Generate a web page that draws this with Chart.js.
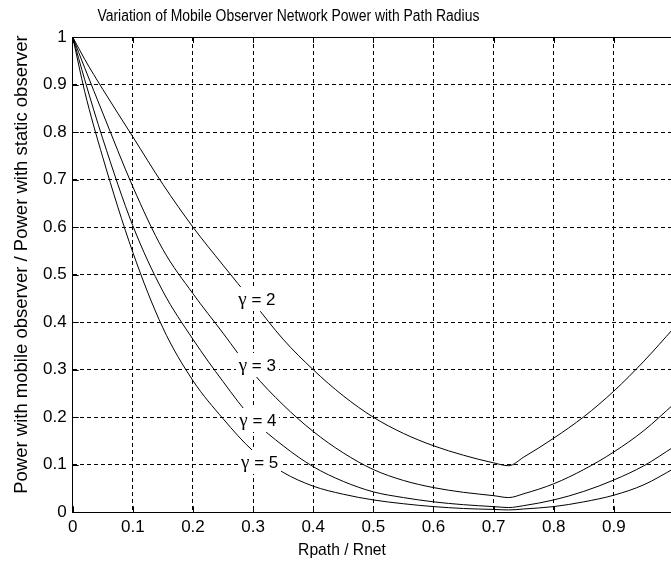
<!DOCTYPE html>
<html><head><meta charset="utf-8">
<script src="https://cdn.jsdelivr.net/npm/chart.js@4.4.0/dist/chart.umd.min.js"></script>
<style>html,body{margin:0;padding:0;overflow:hidden;background:#fff;width:671px;height:563px}canvas{display:block}</style>
</head><body><canvas id="c" width="680" height="563"></canvas>
<script>
// ---- data ----
const xValues = [0,0.02,0.05,0.1,0.15,0.2,0.25,0.3,0.35,0.4,0.45,0.5,0.55,0.6,0.65,0.7,0.725,0.75,0.8,0.85,0.9,0.95,1.0];
const gamma2 = [1,0.953,0.89,0.79,0.69,0.6,0.52,0.442,0.364,0.3,0.245,0.2,0.166,0.14,0.12,0.104,0.098,0.116,0.156,0.201,0.255,0.318,0.388];
const gamma3 = [1,0.935,0.84,0.685,0.553,0.46,0.377,0.293,0.226,0.17,0.125,0.09,0.067,0.052,0.042,0.035,0.031,0.039,0.060,0.090,0.127,0.172,0.228];
const gamma4 = [1,0.91,0.786,0.603,0.465,0.364,0.275,0.195,0.14,0.096,0.065,0.043,0.031,0.022,0.016,0.012,0.010,0.014,0.026,0.044,0.068,0.098,0.138];
const gamma5 = [1,0.885,0.747,0.547,0.388,0.277,0.197,0.129,0.084,0.055,0.038,0.026,0.018,0.012,0.008,0.006,0.005,0.007,0.012,0.022,0.036,0.058,0.092];
const seriesValues = ['2','3','4','5'];
const xTicks = [0,0.1,0.2,0.3,0.4,0.5,0.6,0.7,0.8,0.9,1];
const yTicks = [0,0.1,0.2,0.3,0.4,0.5,0.6,0.7,0.8,0.9,1];
const titleText = 'Variation of Mobile Observer Network Power with Path Radius';
const xLabelText = 'Rpath / Rnet';
const yLabelText = 'Power with mobile observer / Power with static observer';
// label anchor points (data coordinates)
const labelAnchorX = [0.3064,0.307,0.308,0.311];
const labelAnchorY = [0.4505,0.312,0.196,0.1087];

const allSeries = [gamma2, gamma3, gamma4, gamma5];
const fmt = v => String(Math.round(v*10)/10);

const decorPlugin = {
  id: 'decor',
  afterDatasetsDraw(chart) {
    const ctx = chart.ctx, xs = chart.scales.x, ys = chart.scales.y;
    seriesValues.forEach((s, i) => {
      const px = xs.getPixelForValue(labelAnchorX[i]);
      const py = ys.getPixelForValue(labelAnchorY[i]);
      ctx.save();
      ctx.font = '19px "Liberation Serif"';
      const wg = ctx.measureText('γ').width;
      ctx.font = '17px "Liberation Sans"';
      const wr = ctx.measureText(' = ' + s).width;
      const w = wg + wr;
      ctx.fillStyle = '#fff';
      ctx.fillRect(Math.round(px - w/2 - 3), Math.round(py - 11), Math.round(w + 6), 24);
      ctx.fillStyle = '#000';
      ctx.textBaseline = 'alphabetic';
      ctx.textAlign = 'left';
      ctx.font = '19px "Liberation Serif"';
      ctx.fillText('γ', px - w/2, py + 7);
      ctx.font = '17px "Liberation Sans"';
      ctx.fillText(' = ' + s, px - w/2 + wg, py + 7);
      ctx.restore();
    });
  },
  afterDraw(chart) {
    const ctx = chart.ctx, a = chart.chartArea, xs = chart.scales.x, ys = chart.scales.y;
    ctx.save();
    ctx.strokeStyle = '#000';
    ctx.lineWidth = 1;
    ctx.setLineDash([]);
    ctx.beginPath();
    ctx.moveTo(Math.round(a.left)+0.5, Math.round(a.top)+0.5);
    ctx.lineTo(a.right, Math.round(a.top)+0.5);
    ctx.stroke();
    ctx.beginPath();
    xs.ticks.forEach(t => {
      const x = Math.round(xs.getPixelForValue(t.value)) + 0.5;
      ctx.moveTo(x, a.bottom); ctx.lineTo(x, a.bottom - 6);
      ctx.moveTo(x, a.top); ctx.lineTo(x, a.top + 6);
    });
    ys.ticks.forEach(t => {
      const y = Math.round(ys.getPixelForValue(t.value)) + 0.5;
      ctx.moveTo(a.left, y); ctx.lineTo(a.left + 6, y);
    });
    ctx.stroke();
    ctx.fillStyle = '#000';
    ctx.textAlign = 'center';
    ctx.textBaseline = 'alphabetic';
    ctx.save();
    ctx.translate(288.4, 20.7);
    ctx.scale(0.87, 1);
    ctx.font = '16px "Liberation Sans"';
    ctx.fillText(titleText, 0, 0);
    ctx.restore();
    ctx.save();
    ctx.translate(342, 555);
    ctx.scale(0.92, 1);
    ctx.font = '17px "Liberation Sans"';
    ctx.fillText(xLabelText, 0, 0);
    ctx.restore();
    ctx.save();
    ctx.translate(26.5, 264.5);
    ctx.rotate(-Math.PI/2);
    ctx.font = '18.5px "Liberation Sans"';
    ctx.fillText(yLabelText, 0, 0);
    ctx.restore();
    ctx.restore();
  }
};

new Chart(document.getElementById('c'), {
  type: 'line',
  data: {
    datasets: allSeries.map((arr, i) => ({
      label: 'γ = ' + seriesValues[i],
      data: xValues.map((x, j) => ({x: x, y: arr[j]})),
      borderColor: '#000',
      borderWidth: 1,
      pointRadius: 0,
      fill: false,
      cubicInterpolationMode: 'monotone'
    }))
  },
  options: {
    responsive: false,
    animation: false,
    devicePixelRatio: 1,
    layout: { padding: { top: 37, left: 0, right: 6, bottom: 0 } },
    plugins: { legend: { display: false }, title: { display: false }, tooltip: { enabled: false } },
    scales: {
      x: {
        type: 'linear', min: 0, max: 1,
        afterBuildTicks: s => { s.ticks = xTicks.map(v => ({value: v})); },
        afterFit: s => { s.height = 50.7; },
        grid: { color: '#000', lineWidth: 1, drawTicks: false },
        border: { display: true, color: '#000', width: 1, dash: [4, 3] },
        ticks: {
          color: '#000', font: { family: 'Liberation Sans', size: 17 }, padding: 5,
          maxRotation: 0, autoSkip: false,
          callback: v => (v > 0.99 ? '' : fmt(v))
        }
      },
      y: {
        type: 'linear', min: 0, max: 1,
        afterBuildTicks: s => { s.ticks = yTicks.map(v => ({value: v})); },
        afterFit: s => { s.width = 72.7; },
        grid: { color: '#000', lineWidth: 1, drawTicks: false },
        border: { display: true, color: '#000', width: 1, dash: [4, 3] },
        ticks: {
          color: '#000', font: { family: 'Liberation Sans', size: 17 }, padding: 6,
          autoSkip: false,
          callback: v => fmt(v)
        }
      }
    }
  },
  plugins: [decorPlugin]
});
</script>
</body></html>
